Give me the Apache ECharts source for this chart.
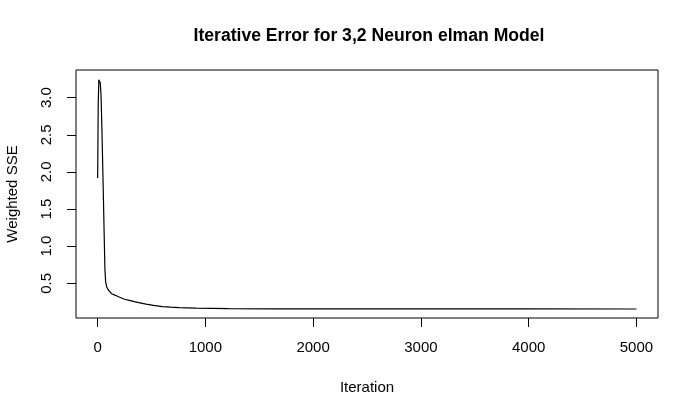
<!DOCTYPE html>
<html>
<head>
<meta charset="utf-8">
<script src="https://cdn.jsdelivr.net/npm/echarts@6/dist/echarts.min.js"></script>
<style>html,body{margin:0;padding:0;background:#fff;}#c{width:676px;height:402px;}</style>
</head>
<body>
<div id="c"></div>
<script>
const titleText = "Iterative Error for 3,2 Neuron elman Model";
const xName = "Iteration";
const yName = "Weighted SSE";
const xTicks = [0, 1000, 2000, 3000, 4000, 5000];
const yTicks = [0.5, 1.0, 1.5, 2.0, 2.5, 3.0];
const iterations = [1, 6, 12, 18, 25, 32, 40, 50, 60, 68, 75, 85, 100, 110, 130, 171, 200, 250, 295, 350, 449, 520, 603, 680, 757, 912, 1217, 1600, 2000, 3000, 4000, 5000];
const sse = [1.92, 2.9, 3.24, 3.25, 3.2, 3.05, 2.6, 1.95, 1.25, 0.7, 0.52, 0.45, 0.41, 0.39, 0.36, 0.335, 0.315, 0.285, 0.27, 0.25, 0.22, 0.203, 0.187, 0.18, 0.174, 0.165, 0.16, 0.157, 0.156, 0.155, 0.155, 0.154];

const font = "'Liberation Sans', Arial, Helvetica, sans-serif";
const chart = echarts.init(document.getElementById('c'), null, {renderer: 'canvas'});
chart.setOption({
  animation: false,
  backgroundColor: '#fff',
  title: {
    text: titleText, left: 364, top: 22, textAlign: 'center',
    textStyle: {fontFamily: font, fontSize: 17.6, fontWeight: 'bold', color: '#000'}
  },
  grid: {left: 76, top: 70, width: 582, height: 248, show: true, borderColor: '#000', borderWidth: 1, backgroundColor: 'transparent', containLabel: false, outerBoundsMode: 'none'},
  xAxis: {
    type: 'value', min: -200, max: 5200,
    name: xName, nameLocation: 'middle', nameGap: 62,
    nameTextStyle: {fontFamily: font, fontSize: 15, color: '#000'},
    axisLine: {show: false, onZero: false},
    axisTick: {show: true, length: 9, inside: false, customValues: xTicks, lineStyle: {color: '#000'}},
    axisLabel: {fontFamily: font, fontSize: 15, color: '#000', margin: 22, customValues: xTicks, formatter: v => String(v)},
    splitLine: {show: false}
  },
  yAxis: {
    type: 'value', min: 0.033, max: 3.373,
    name: yName, nameLocation: 'middle', nameGap: 56, nameRotate: 90,
    nameTextStyle: {fontFamily: font, fontSize: 15, color: '#000'},
    axisLine: {show: false, onZero: false},
    axisTick: {show: true, length: 9, inside: false, customValues: yTicks, lineStyle: {color: '#000'}},
    axisLabel: {fontFamily: font, fontSize: 15, color: '#000', margin: 22, rotate: 90, customValues: yTicks, formatter: v => v.toFixed(1)},
    splitLine: {show: false}
  },
  series: [{
    type: 'line', showSymbol: false, symbol: 'none',
    data: iterations.map((x, i) => [x, sse[i]]),
    lineStyle: {color: '#000', width: 1.2}
  }]
});
</script>
</body>
</html>
